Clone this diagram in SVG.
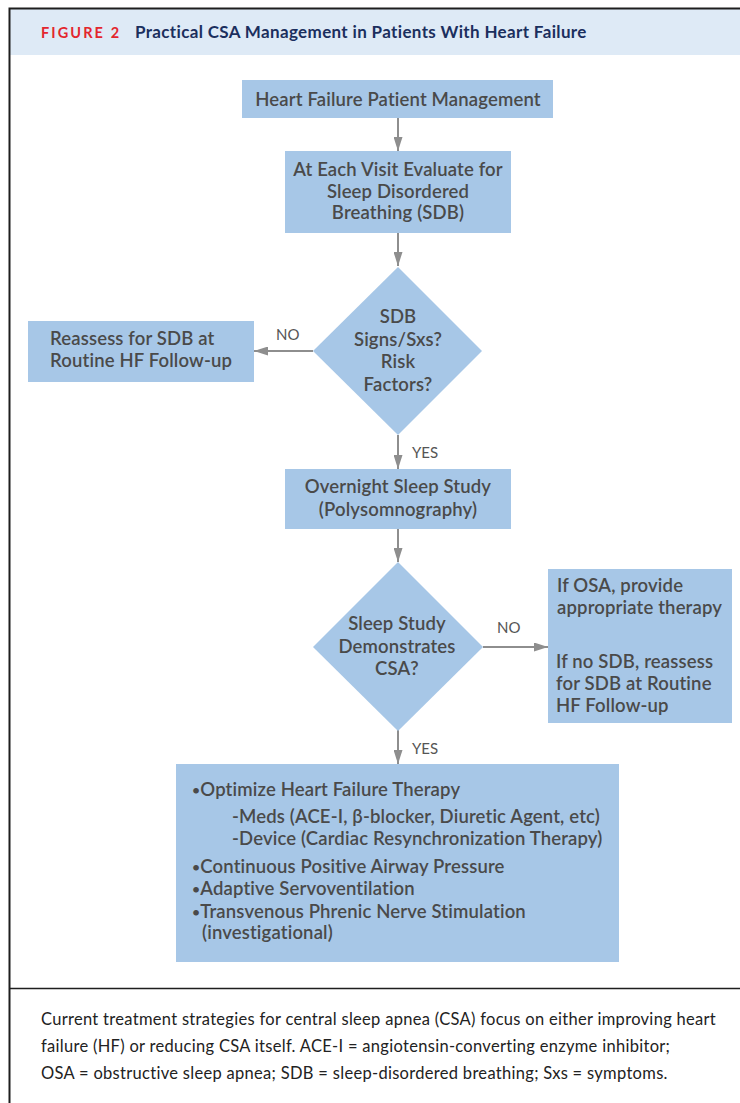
<svg xmlns="http://www.w3.org/2000/svg" width="740" height="1103" viewBox="0 0 740 1103">
<style>
.box{fill:#a7c7e7}
.t{font-family:Lato,"Open Sans",sans-serif;font-size:18.5px;font-weight:600;fill:#4a4a4a;letter-spacing:0.15px}
.c{text-anchor:middle}
.lbl{font-family:Lato,"Open Sans",sans-serif;font-size:15px;fill:#555555}
.cap{font-family:Lato,"Open Sans",sans-serif;font-size:16.5px;fill:#222222;letter-spacing:0.3px}
.ln{stroke:#8e8e8e;stroke-width:2;fill:none}
.b{font-size:14px}
</style>
<defs>
<marker id="ah" viewBox="0 0 14 9" refX="14" refY="4.5" markerWidth="7" markerHeight="4.5" markerUnits="strokeWidth" orient="auto">
<path d="M0,0 L14,4.5 L0,9 z" fill="#8e8e8e"/>
</marker>
</defs>
<rect x="0" y="0" width="740" height="1103" fill="#ffffff"/>
<rect x="9" y="9" width="731" height="46" fill="#deeaf6"/>
<path d="M9.5,1103 V8.5 H740" fill="none" stroke="#1e1e1e" stroke-width="2"/>
<line x1="9" y1="988.5" x2="740" y2="988.5" stroke="#1e1e1e" stroke-width="1.5"/>
<g id="header">
<text x="41" y="38" font-family="Lato,'Open Sans',sans-serif" font-size="14.5" font-weight="700" fill="#e3262e" letter-spacing="2.1">FIGURE 2</text>
<text x="135" y="38" font-family="Lato,'Open Sans',sans-serif" font-size="17" font-weight="700" fill="#1b2f5e" letter-spacing="0.35">Practical CSA Management in Patients With Heart Failure</text>
</g>
<g id="connectors">
<line class="ln" x1="398" y1="118" x2="398" y2="151" marker-end="url(#ah)"/>
<line class="ln" x1="398" y1="233" x2="398" y2="266" marker-end="url(#ah)"/>
<line class="ln" x1="313" y1="351" x2="254" y2="351" marker-end="url(#ah)"/>
<line class="ln" x1="398" y1="435" x2="398" y2="469" marker-end="url(#ah)"/>
<line class="ln" x1="398" y1="529" x2="398" y2="562" marker-end="url(#ah)"/>
<line class="ln" x1="483" y1="647" x2="548" y2="647" marker-end="url(#ah)"/>
<line class="ln" x1="398" y1="730" x2="398" y2="764" marker-end="url(#ah)"/>
<text class="lbl" x="276" y="340">NO</text>
<text class="lbl" x="412" y="458">YES</text>
<text class="lbl" x="497" y="633">NO</text>
<text class="lbl" x="412" y="754">YES</text>
</g>
<g id="n1">
<rect class="box" x="242" y="80" width="311" height="38"/>
<text class="t c" x="398" y="106">Heart Failure Patient Management</text>
</g>
<g id="n2">
<rect class="box" x="285" y="151" width="226" height="82"/>
<text class="t c" x="398" y="176">At Each Visit Evaluate for</text>
<text class="t c" x="398" y="198">Sleep Disordered</text>
<text class="t c" x="398" y="219">Breathing (SDB)</text>
</g>
<g id="d1">
<polygon class="box" points="398,267 482,351 398,435 313,351"/>
<text class="t c" x="398" y="323">SDB</text>
<text class="t c" x="398" y="346">Signs/Sxs?</text>
<text class="t c" x="398" y="368">Risk</text>
<text class="t c" x="398" y="391">Factors?</text>
</g>
<g id="n3">
<rect class="box" x="28" y="321" width="226" height="61"/>
<text class="t" x="50" y="345">Reassess for SDB at</text>
<text class="t" x="50" y="367">Routine HF Follow-up</text>
</g>
<g id="n4">
<rect class="box" x="285" y="469" width="226" height="60"/>
<text class="t c" x="398" y="493">Overnight Sleep Study</text>
<text class="t c" x="398" y="516">(Polysomnography)</text>
</g>
<g id="d2">
<polygon class="box" points="398,562 483,647 398,731 313,647"/>
<text class="t c" x="397" y="630">Sleep Study</text>
<text class="t c" x="397" y="653">Demonstrates</text>
<text class="t c" x="397" y="675">CSA?</text>
</g>
<g id="n5">
<rect class="box" x="548" y="569" width="184" height="154"/>
<text class="t" x="557" y="592">If OSA, provide</text>
<text class="t" x="557" y="614">appropriate therapy</text>
<text class="t" x="556" y="668">If no SDB, reassess</text>
<text class="t" x="556" y="690">for SDB at Routine</text>
<text class="t" x="556" y="712">HF Follow-up</text>
</g>
<g id="n6">
<rect class="box" x="176" y="764" width="443" height="198"/>
<text class="t" x="192" y="796"><tspan class="b" dy="-1">•</tspan><tspan dy="1">Optimize Heart Failure Therapy</tspan></text>
<text class="t" x="232" y="823">-Meds (ACE-I, β-blocker, Diuretic Agent, etc)</text>
<text class="t" x="232" y="845">-Device (Cardiac Resynchronization Therapy)</text>
<text class="t" x="192" y="873"><tspan class="b" dy="-1">•</tspan><tspan dy="1">Continuous Positive Airway Pressure</tspan></text>
<text class="t" x="192" y="895"><tspan class="b" dy="-1">•</tspan><tspan dy="1">Adaptive Servoventilation</tspan></text>
<text class="t" x="192" y="918"><tspan class="b" dy="-1">•</tspan><tspan dy="1">Transvenous Phrenic Nerve Stimulation</tspan></text>
<text class="t" x="202" y="939">(investigational)</text>
</g>
<g id="caption">
<text class="cap" x="41" y="1025">Current treatment strategies for central sleep apnea (CSA) focus on either improving heart</text>
<text class="cap" x="41" y="1052">failure (HF) or reducing CSA itself. ACE-I = angiotensin-converting enzyme inhibitor;</text>
<text class="cap" x="41" y="1079">OSA = obstructive sleep apnea; SDB = sleep-disordered breathing; Sxs = symptoms.</text>
</g>
</svg>
